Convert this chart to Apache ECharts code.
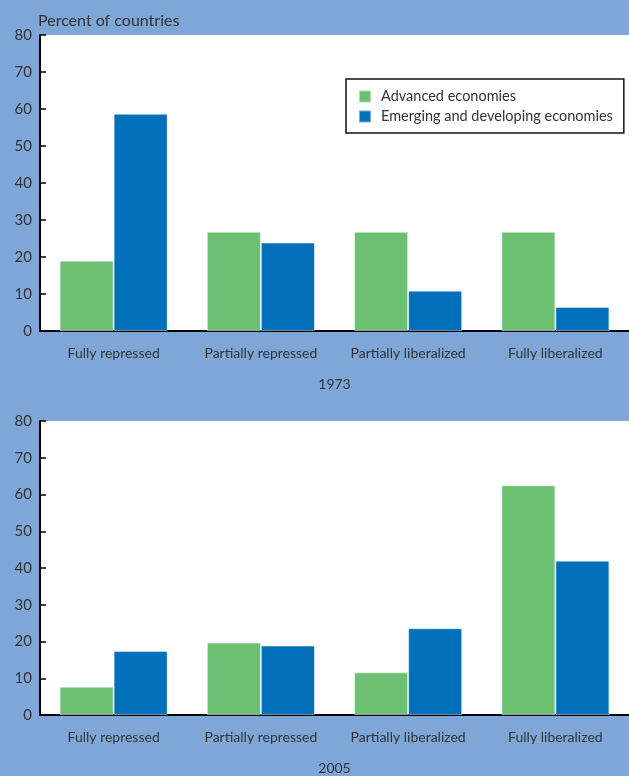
<!DOCTYPE html>
<html>
<head>
<meta charset="utf-8">
<script src="https://cdn.jsdelivr.net/npm/echarts@6/dist/echarts.min.js"></script>
<style>
  html, body { margin: 0; padding: 0; background: #7ea7d8; overflow: hidden; }
  #chart { width: 629px; height: 776px; }
</style>
</head>
<body>
<div id="chart"></div>
<script>
const categories = ['Fully repressed', 'Partially repressed', 'Partially liberalized', 'Fully liberalized'];
const seriesNames = ['Advanced economies', 'Emerging and developing economies'];
const advanced1973 = [19, 26.8, 26.8, 26.8];
const emerging1973 = [58.7, 23.9, 10.9, 6.5];
const advanced2005 = [7.7, 19.7, 11.6, 62.5];
const emerging2005 = [17.4, 18.9, 23.6, 42];
const yMin = 0, yMax = 80, yStep = 10;
const years = ['1973', '2005'];
const unitLabel = 'Percent of countries';

const GREEN = '#6cc072';
const BLUE = '#0070bb';
const TXT = '#333333';
const FONT = 'Lato, "Noto Sans", sans-serif';

function xAxisFor(i) {
  return {
    type: 'category', data: categories, gridIndex: i,
    axisLine: { onZero: false, lineStyle: { color: '#000', width: 2 } },
    axisTick: { show: false },
    axisLabel: { color: TXT, fontSize: 14, fontFamily: FONT, margin: 15, interval: 0 },
    name: years[i], nameLocation: 'middle', nameGap: 46,
    nameTextStyle: { color: TXT, fontSize: 14, fontFamily: FONT }
  };
}
function yAxisFor(i) {
  return {
    type: 'value', min: yMin, max: yMax, interval: yStep, gridIndex: i,
    splitLine: { show: false },
    axisLine: { show: true, lineStyle: { color: '#000', width: 2 } },
    axisTick: { show: true, inside: true, length: 6, lineStyle: { color: '#000', width: 1.5 } },
    axisLabel: { color: TXT, fontSize: 15, fontFamily: FONT, margin: 8 }
  };
}
function barSeries(name, data, color, i) {
  return {
    name: name, type: 'bar', data: data, barWidth: 54, barGap: '0%',
    xAxisIndex: i, yAxisIndex: i,
    itemStyle: { color: color, borderColor: 'rgba(255,255,255,0.45)', borderWidth: 1 }
  };
}

const chart = echarts.init(document.getElementById('chart'));
chart.setOption({
  backgroundColor: '#7ea7d8',
  animation: false,
  textStyle: { fontFamily: FONT },
  title: {
    text: unitLabel, left: 33, top: 8,
    textStyle: { color: TXT, fontSize: 16, fontWeight: 'normal', fontFamily: FONT }
  },
  legend: {
    orient: 'vertical', left: 346, top: 79,
    padding: [10, 11, 9, 12],
    itemWidth: 12, itemHeight: 12, itemGap: 5,
    backgroundColor: '#ffffff', borderColor: '#111', borderWidth: 1.5, borderRadius: 0,
    icon: 'rect',
    textStyle: { color: TXT, fontSize: 14.5, lineHeight: 12, fontFamily: FONT, padding: [0, 0, 0, 5] },
    data: seriesNames
  },
  grid: [
    { left: 40, top: 35, width: 596, height: 296, show: true, backgroundColor: '#ffffff', borderWidth: 0 },
    { left: 40, top: 421, width: 596, height: 298, show: true, backgroundColor: '#ffffff', borderWidth: 0 }
  ],
  xAxis: [xAxisFor(0), xAxisFor(1)],
  yAxis: [yAxisFor(0), yAxisFor(1)],
  series: [
    barSeries(seriesNames[0], advanced1973, GREEN, 0),
    barSeries(seriesNames[1], emerging1973, BLUE, 0),
    barSeries(seriesNames[0], advanced2005, GREEN, 1),
    barSeries(seriesNames[1], emerging2005, BLUE, 1)
  ]
});
</script>
</body>
</html>
